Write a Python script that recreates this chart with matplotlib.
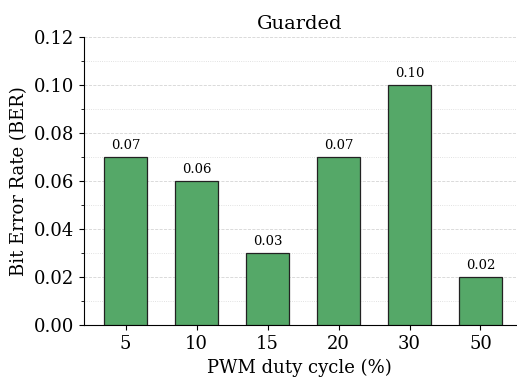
import matplotlib
matplotlib.use("Agg")
import matplotlib.pyplot as plt
from matplotlib.ticker import MultipleLocator

duty_cycles = ['5', '10', '15', '20', '30', '50']
ber_values = [0.07, 0.06, 0.03, 0.07, 0.10, 0.02]

plt.rcParams['font.family'] = 'DejaVu Serif'

fig = plt.figure(figsize=(5.17, 3.83), dpi=100)
ax = fig.add_axes([0.162, 0.151, 0.836, 0.752])

x = range(len(duty_cycles))
bars = ax.bar(x, ber_values, width=0.6, color='#55a868',
              edgecolor='#222222', linewidth=0.9, zorder=3)

# value labels on top of bars
for bar, v in zip(bars, ber_values):
    ax.text(bar.get_x() + bar.get_width() / 2, v + 0.002, f'{v:.2f}',
            ha='center', va='bottom', fontsize=9.5)

ax.set_xticks(list(x))
ax.set_xticklabels(duty_cycles)
ax.set_xlim(-0.59, 5.5)
ax.set_ylim(0, 0.12)
ax.yaxis.set_major_locator(MultipleLocator(0.02))
ax.yaxis.set_minor_locator(MultipleLocator(0.01))
ax.grid(axis='y', which='major', linestyle='--', color='#d5d5d5', linewidth=0.6, zorder=0)
ax.grid(axis='y', which='minor', linestyle=':', color='#d8d8d8', linewidth=0.6, zorder=0)

ax.spines['top'].set_visible(False)
ax.spines['right'].set_visible(False)
ax.tick_params(axis='both', labelsize=13)

ax.set_xlabel('PWM duty cycle (%)', fontsize=13)
ax.set_ylabel('Bit Error Rate (BER)', fontsize=13)
ax.set_title('Guarded', fontsize=14)

fig.savefig('out.png', dpi=100)
